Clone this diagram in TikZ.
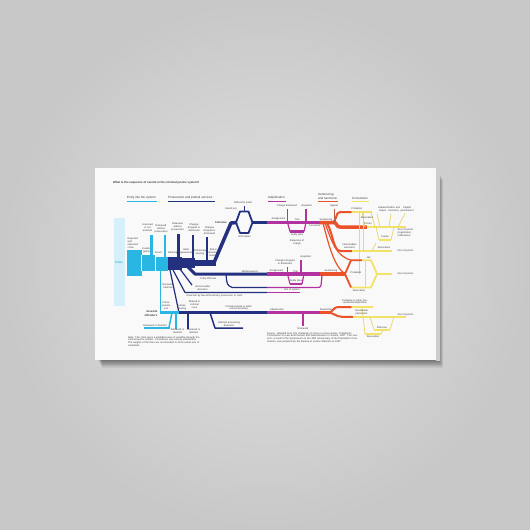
\documentclass[tikz,border=0pt]{standalone}
\usepackage{fontspec}
\setmainfont{Liberation Sans}
\definecolor{bgin}{RGB}{226,226,226}
\definecolor{bgout}{RGB}{200,200,200}
\definecolor{canvasc}{RGB}{249,249,249}
\definecolor{edgec}{RGB}{205,205,205}
\definecolor{txtc}{RGB}{60,60,60}
\definecolor{cyanc}{RGB}{41,182,226}
\definecolor{crimec}{RGB}{214,240,249}
\definecolor{navyc}{RGB}{36,48,128}
\definecolor{magc}{RGB}{178,50,160}
\definecolor{orc}{RGB}{236,82,42}
\definecolor{brc}{RGB}{184,92,70}
\definecolor{yelc}{RGB}{242,226,104}
\definecolor{yelt}{RGB}{232,216,120}
\begin{document}
\begin{tikzpicture}[x=1pt,y=-1pt,line join=round,
  lb/.style={font=\fontsize{2.5}{2.9}\selectfont,text=txtc,inner sep=0pt,align=center},
  lbw/.style={lb,anchor=west,align=left},
  hd/.style={font=\fontsize{3.05}{3.4}\selectfont,text=txtc,inner sep=0pt,anchor=west,align=left},
  wA/.style={line width=3.5pt},
  wB/.style={line width=2.5pt},
  wC/.style={line width=1.8pt},
  wD/.style={line width=1.2pt},
  wE/.style={line width=0.8pt}]
\useasboundingbox (0,0) rectangle (530,530);
% wall
\shade[inner color=bgin,outer color=bgout] (0,0) rectangle (530,530);
% shadow
\foreach \i in {1,...,10} {\fill[black,opacity=0.05] (98+0.4*\i,171+0.9*\i) rectangle (438+0.5*\i,360+0.75*\i);}
% canvas
\fill[canvasc] (95,168) rectangle (436,360);
\fill[edgec] (436,168.5) rectangle (439.5,360.5);

% title and headers
\node[hd,font=\bfseries\fontsize{2.9}{3.3}\selectfont] (title) at (113,182.6) {What is the sequence of events in the criminal justice system?};
\node[hd] (h1) at (127,198) {Entry into the system};
\draw[cyanc,line width=1pt] (127,201) -- (156.5,201);
\node[hd] (h2) at (168,198) {Prosecution and pretrial services};
\draw[navyc,line width=1pt] (168,201.5) -- (215,201.5);
\node[hd] (h3) at (268,198) {Adjudication};
\draw[magc,line width=1pt] (268,201) -- (286,201);
\node[hd] (h4) at (318,196.3) {Sentencing\\and sanctions};
\draw[orc,line width=1pt] (318,201.2) -- (338,201.2);
\node[hd] (h5) at (352,198) {Corrections};
\draw[yelc,line width=1pt] (352,201) -- (368.5,201);

% crime box
\fill[crimec] (113.6,218) rectangle (124.5,306);
\node[lb,font=\bfseries\fontsize{2.8}{3}\selectfont,text=cyanc] (crime) at (119,262) {Crime};

% entry band
\fill[cyanc] (127,250) rectangle (141.5,276);
\fill[cyanc] (141.5,255) rectangle (155,271);
\fill[cyanc] (155,256.5) rectangle (168,270.5);
\fill[navyc] (168,256.5) rectangle (181.5,269.5);
\fill[navyc] (181.5,258) rectangle (195,268);
\fill[navyc] (195,259.5) rectangle (216,266);
\draw[white,line width=0.4pt] (141.5,255) -- (141.5,271) (155,256.5) -- (155,270.5);
\draw[cyanc,wB] (151.5,256) -- (151.5,235);
\draw[cyanc,wB] (165,257) -- (165,234.5);
\draw[navyc,wB] (178.5,257) -- (178.5,233.5);
\draw[navyc,line width=2pt] (193.4,258.5) -- (193.4,235);
\draw[navyc,line width=2pt] (206.7,260) -- (206.7,237);

\node[lbw] (rep) at (127.5,243.3) {Reported\\and\\observed\\crime};
\node[lb] (inv) at (146.5,250.5) {Investi-\\gation};
\node[lb] (arr) at (158.3,253) {Arrest};
\node[lb] (uns) at (147.5,228) {Unsolved\\or not\\arrested};
\node[lb] (rel1) at (161,228.5) {Released\\without\\prosecution};
\node[lb] (book) at (172.8,253) {Booking};
\node[lb] (iap) at (186,251.5) {Initial\\appearance};
\node[lb] (prh) at (200,252.5) {Preliminary\\hearing};
\node[lb] (bail) at (213.5,253) {Bail or\\detention\\hearing};
\node[lb] (rel2) at (177.5,226.5) {Released\\without\\prosecution};
\node[lb] (chd1) at (194,228) {Charges\\dropped or\\dismissed};
\node[lb] (chd2) at (209.5,231) {Charges\\dropped or\\dismissed};

% felonies
\draw[navyc,wA] (213,265) -- (231,223) -- (237,222.5);
\draw[navyc,wC] (236,222.5) -- (240,211.5) -- (248.5,211.5) -- (252.5,222.5) -- (248.5,233) -- (240,233) -- cycle;
\draw[navyc,wA] (252,222.5) -- (267,222.5);
\draw[navyc,wE] (244,211.5) -- (244,205.5);
\node[lb,font=\bfseries\fontsize{2.8}{3}\selectfont] (fel) at (221,222) {Felonies};
\node[lb] (ref) at (243,203) {Refusal to indict};
\node[lb] (gj) at (231,209) {Grand jury};
\node[lb] (inf) at (244.5,236.3) {Information};

\draw[magc,wA] (267,222.5) -- (319.5,222.5);
\draw[magc,wD] (287.5,222.5) -- (287.5,208.5);
\draw[magc,wD] (306,222.5) -- (306,208.5);
\draw[magc,wD] (287.5,222.5) -- (290,231.5) (304,231.5) -- (306,222.5);
\draw[magc,wB] (290,231.5) -- (304,231.5);
\node[lb] (arr1) at (278.5,219) {Arraignment};
\node[lb] (cdis) at (287,205.5) {Charge dismissed};
\node[lb] (acq) at (306.5,205.5) {Acquitted};
\node[lb] (trial) at (297,219.3) {Trial};
\node[lb] (gp) at (297,235.3) {Guilty plea};
\node[lb] (red) at (297,242.5) {Reduction of\\charge};
\node[lb] (conv) at (314.5,225.8) {Convicted};

% sentencing (felony)
\draw[orc,wA] (319.5,222.5) -- (334,222.5) .. controls (337,222.5) and (336,227) .. (340,227) -- (366.8,227);
\draw[orc,line width=2pt] (332,222.5) .. controls (337,222.5) and (335,212) .. (340,212) -- (351.6,212);
\draw[orc,line width=2pt] (327,223) .. controls (334,236) and (333,251) .. (341,251) -- (352,251);
\draw[orc,wD] (325,223) .. controls (332,242) and (336,256) .. (351,260.2);
\draw[orc,wD] (323,223) .. controls (329,246) and (334,266) .. (345,274);
\draw[brc,line width=1.5pt] (334.7,209) -- (334.7,222.5);
\node[lb] (sen1) at (326,219.5) {Sentencing};
\node[lb] (app) at (334,206) {Appeal};

% corrections (felony)
\draw[yelc,line width=2pt] (351.6,212) -- (372,212);
\draw[yelc,wB] (366.8,227) -- (405.7,227);
\draw[yelc,line width=2pt] (352,251) -- (392,251);
\draw[yelt,wE] (362,212) -- (365,227) (371,212) -- (375,227);
\draw[yelt,wE] (359,212) -- (359,274) (363.4,212) -- (363.4,251);
\draw[yelt,wE] (376,227) -- (379,240) (391,240) -- (394,227);
\draw[yelc,line width=2pt] (379,240) -- (391,240);
\draw[yelt,wE] (372,251) -- (376,243) (380,227) -- (377,213.5) (389,227) -- (391,213.5) (398,227) -- (405,213.5);
\node[lb] (prob1) at (357,208.8) {Probation};
\node[lb] (rev1) at (367,217.3) {Revocation};
\node[lb] (pris) at (368,223.6) {Prison};
\node[lb] (hab) at (382.5,209) {Habeas\\corpus};
\node[lb] (par) at (393.5,209) {Pardon and\\clemency};
\node[lb] (cap) at (407,209) {Capital\\punishment};
\node[lbw] (oos1) at (397.5,233) {Out of system\\(registration,\\notification)};
\node[lb] (parole) at (385,236.5) {Parole};
\node[lb] (rev2) at (384,247.4) {Revocation};
\node[lb] (ints) at (349.5,246.3) {Intermediate\\sanctions};
\node[lbw] (oos2) at (397.5,250.8) {Out of system};

% misdemeanors
\draw[navyc,line width=3pt] (187,266) -- (195,274) -- (267,274);
\draw[magc,wA] (267,274) -- (319.5,274);
\draw[magc,wD] (287.5,274) -- (287.5,266.5);
\draw[magc,wD] (301,274) -- (301,259.5);
\draw[magc,wD] (287.5,274) -- (290,284) (302,284) -- (304,274);
\draw[magc,wB] (290,284) -- (302,284);
\draw[orc,wA] (319.5,274) -- (345,274);
\draw[orc,wC] (345,274) -- (351,260.2) -- (362,260.2);
\draw[yelc,wC] (362,260.2) -- (371,260.2) -- (377,274) -- (371,287.4) -- (351,287.4);
\draw[orc,wC] (351,287.4) -- (345,274);
\draw[yelc,line width=2pt] (377,274) -- (392,274);
\draw[yelt,wE] (365.5,260.2) -- (365.5,287.4);
\node[lb] (misd) at (250,271.3) {Misdemeanors};
\node[lb] (arr2) at (276.5,271.3) {Arraignment};
\node[lb] (cdd) at (285,262.5) {Charges dropped\\or dismissed};
\node[lb] (acq2) at (305.5,257.3) {Acquitted};
\node[lb] (trial2) at (295.5,271.3) {Trial};
\node[lb] (gp2) at (296,280.5) {Guilty plea};
\node[lb] (sen2) at (331,271.3) {Sentencing};
\node[lb] (jail) at (368.5,257.5) {Jail};
\node[lb] (prob2) at (356,272.5) {Probation};
\node[lb] (rev3) at (359,290.8) {Revocation};
\node[lbw] (oos3) at (397.5,273.5) {Out of system};

% petty offenses and diversion
\draw[navyc,wD] (226,274) .. controls (227,285) .. (232,287.4) -- (267,287.4);
\draw[magc,wD] (267,287.4) -- (318,287.4) .. controls (321,287.4) .. (322,275);
\draw[navyc,wD] (173,270) -- (185,292.4) -- (267,292.4);
\draw[magc,wD] (267,292.4) -- (300,292.4);
\draw[navyc,wD] (180,269) -- (192,285);
\draw[navyc,wD] (170,270) -- (179,312.7);
\node[lb] (petty) at (208.5,279) {Petty offenses};
\node[lb] (unsd) at (202.5,288.3) {Unsuccessful\\diversion};
\node[lbw] (div) at (186.5,296) {Diversion by law enforcement, prosecutor, or court};
\node[lb] (oos4) at (292,290.3) {Out of system};

% juvenile
\draw[cyanc,line width=1.5pt] (160.6,270.5) -- (160.6,312.7);
\draw[cyanc,line width=3pt] (160,312.7) -- (179,312.7);
\draw[cyanc,line width=1.5pt] (172,312.7) -- (169,327.5);
\draw[cyanc,wB] (169.5,328) -- (143.7,328);
\draw[cyanc,line width=1.5pt] (175.8,312.7) -- (175.8,328.5);
\draw[navyc,line width=3pt] (179,312.7) -- (267,312.7);
\draw[navyc,line width=2pt] (187.6,312.7) -- (187.6,328.5);
\draw[navyc,line width=1.5pt] (210,312.7) -- (215,328) -- (243,328);
\draw[magc,line width=3pt] (267,312.7) -- (319.5,312.7);
\draw[magc,line width=1.5pt] (303,312.7) -- (303,325.5);
\draw[orc,line width=3pt] (319.5,312.7) -- (330,312.7);
\draw[orc,line width=2pt] (328,312.7) .. controls (333,312.7) and (333,307) .. (338,307) -- (351.6,307);
\draw[yelc,line width=2pt] (351.6,307) -- (373,307);
\draw[orc,line width=2pt] (328,312.7) .. controls (334,312.7) and (336,316.8) .. (342,316.8) -- (353,316.8);
\draw[yelc,wB] (353,316.8) -- (405.7,316.8);
\draw[yelt,wE] (370,316.8) -- (374,329.5) (390,329.5) -- (394,316.8);
\draw[yelc,line width=2pt] (374,329.5) -- (390,329.5);
\draw[yelt,wE] (362,307) -- (365,334) (381,334) -- (383,329.5);
\draw[yelc,line width=2pt] (365,334) -- (381,334);
\node[lb,font=\bfseries\fontsize{2.8}{3.1}\selectfont,align=right] (juv) at (151,313.5) {Juvenile\\offenders};
\node[lb] (nonp) at (168,286.5) {Nonpolice\\referrals};
\node[lb] (pju) at (166,306) {Police\\juvenile\\unit};
\node[lb] (ih) at (182,307.3) {Intake\\hearing};
\node[lb] (waiv) at (194.5,304.5) {Waived to\\criminal\\court};
\node[lb] (rod1) at (155,325.2) {Released or diverted};
\node[lb] (rod2) at (177.5,331.5) {Released or\\diverted};
\node[lb] (rod3) at (193.5,331.5) {Released or\\diverted};
\node[lb] (fjp) at (238.5,307.8) {Formal juvenile or adult\\court processing};
\node[lb] (ipd) at (229,323.8) {Informal processing\\diversion};
\node[lb] (adj) at (277,310) {Adjudication};
\node[lb] (rel3) at (303,328.3) {Released};
\node[lb] (disp) at (326,310) {Disposition};
\node[lb] (pond) at (355,301.8) {Probation or other non-\\residential disposition};
\node[lb] (resp) at (361.5,312) {Residential\\placement};
\node[lbw] (oos5) at (397.5,315.3) {Out of system};
\node[lb] (aft) at (382,327.4) {Aftercare};
\node[lb] (rev4) at (373,337) {Revocation};

% notes
\node[lb,anchor=north west,align=left,text width=76pt] (note) at (127.8,336) {Note: This chart gives a simplified view of caseflow through the criminal justice system. Procedures vary among jurisdictions. The weights of the lines are not intended to show actual size of caseloads.};
\node[lb,anchor=north west,align=left,text width=91pt] (src) at (267,332) {Source: Adapted from The challenge of crime in a free society. President's Commission on Law Enforcement and Administration of Justice, 1967. This revision, a result of the Symposium on the 30th Anniversary of the President's Commission, was prepared by the Bureau of Justice Statistics in 1997.};
\end{tikzpicture}
\end{document}
